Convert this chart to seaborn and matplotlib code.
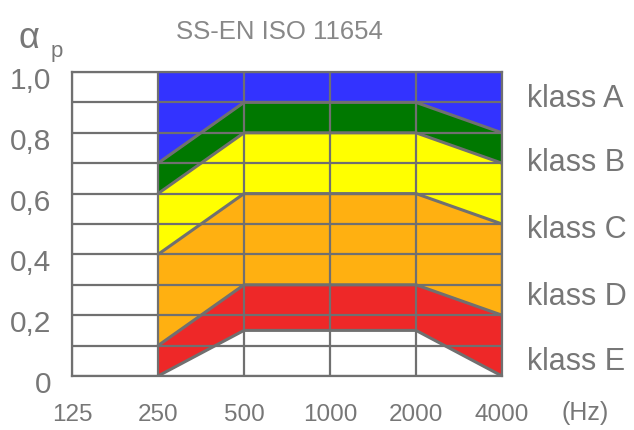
import matplotlib
matplotlib.use("Agg")
import matplotlib.pyplot as plt
import matplotlib.transforms as mtransforms
import numpy as np
import seaborn as sns

# ---- data ----
freqs = ["125", "250", "500", "1000", "2000", "4000"]
band_freqs = ["250", "500", "1000", "2000", "4000"]
upper_A = [1.0, 1.0, 1.0, 1.0, 1.0]
lower_A = [0.7, 0.9, 0.9, 0.9, 0.8]
lower_B = [0.6, 0.8, 0.8, 0.8, 0.7]
lower_C = [0.4, 0.6, 0.6, 0.6, 0.5]
lower_D = [0.1, 0.3, 0.3, 0.3, 0.2]
lower_E = [0.0, 0.15, 0.15, 0.15, 0.0]
class_names = ["klass A", "klass B", "klass C", "klass D", "klass E"]
class_label_y = [0.91, 0.70, 0.48, 0.26, 0.045]
y_grid = [0.0, 0.1, 0.2, 0.3, 0.4, 0.5, 0.6, 0.7, 0.8, 0.9, 1.0]
y_tick_labels = ["0", "", "0,2", "", "0,4", "", "0,6", "", "0,8", "", "1,0"]
title = "SS-EN ISO 11654"

colors = ["#3333ff", "#007800", "#ffff00", "#ffb011", "#ee2828"]
gray = "#707070"
text_gray = "#777777"

sns.set_style("white")
plt.rcParams["font.family"] = ["Liberation Sans", "DejaVu Sans"]

fig = plt.figure(figsize=(6.34, 4.30), dpi=100)
ax = fig.add_axes([72 / 634, 1 - 376 / 430, (502 - 72) / 634, (376 - 72) / 430])

xpos = [freqs.index(f) for f in band_freqs]
bounds = [upper_A, lower_A, lower_B, lower_C, lower_D, lower_E]
for i in range(5):
    ax.fill_between(xpos, bounds[i + 1], bounds[i], color=colors[i], linewidth=0, zorder=1)

for b in bounds[1:]:
    sns.lineplot(x=xpos, y=b, color=gray, linewidth=2.2, ax=ax, legend=False, zorder=2)

ax.set_xlim(0, 5)
ax.set_ylim(0, 1.0)
ax.set_xticks(range(len(freqs)))
ax.set_xticklabels(freqs)
ax.set_yticks(y_grid)
ax.set_yticklabels(y_tick_labels)
ax.set_axisbelow(False)
ax.grid(True, color=gray, linewidth=1.6)
for s in ax.spines.values():
    s.set_color(gray)
    s.set_linewidth(1.6)
ax.tick_params(axis="both", length=0, colors=text_gray)
ax.tick_params(axis="x", labelsize=17.5, pad=20)
ax.tick_params(axis="y", labelsize=21.5, pad=15)
ax.set_xlabel("")
ax.set_ylabel("")

offset = mtransforms.ScaledTranslation(0, -6 / 100, fig.dpi_scale_trans)
for lab in ax.get_yticklabels():
    lab.set_transform(lab.get_transform() + offset)

for name, yv in zip(class_names, class_label_y):
    ax.text(527 / 634, yv, name, transform=mtransforms.blended_transform_factory(fig.transFigure, ax.transData),
            fontsize=22, color=text_gray, va="center", ha="left")

fig.text(279 / 634, 1 - 32 / 430, title, fontsize=18.5, color="#888888", ha="center", va="center")
fig.text(29 / 634, 1 - 38 / 430, "α", fontsize=26, color=text_gray, ha="center", va="center")
fig.text(57 / 634, 1 - 52 / 430, "p", fontsize=16, color=text_gray, ha="center", va="center")
fig.text(585 / 634, 1 - 413 / 430, "(Hz)", fontsize=18, color=text_gray, ha="center", va="center")

fig.savefig("out.png", dpi=100)
